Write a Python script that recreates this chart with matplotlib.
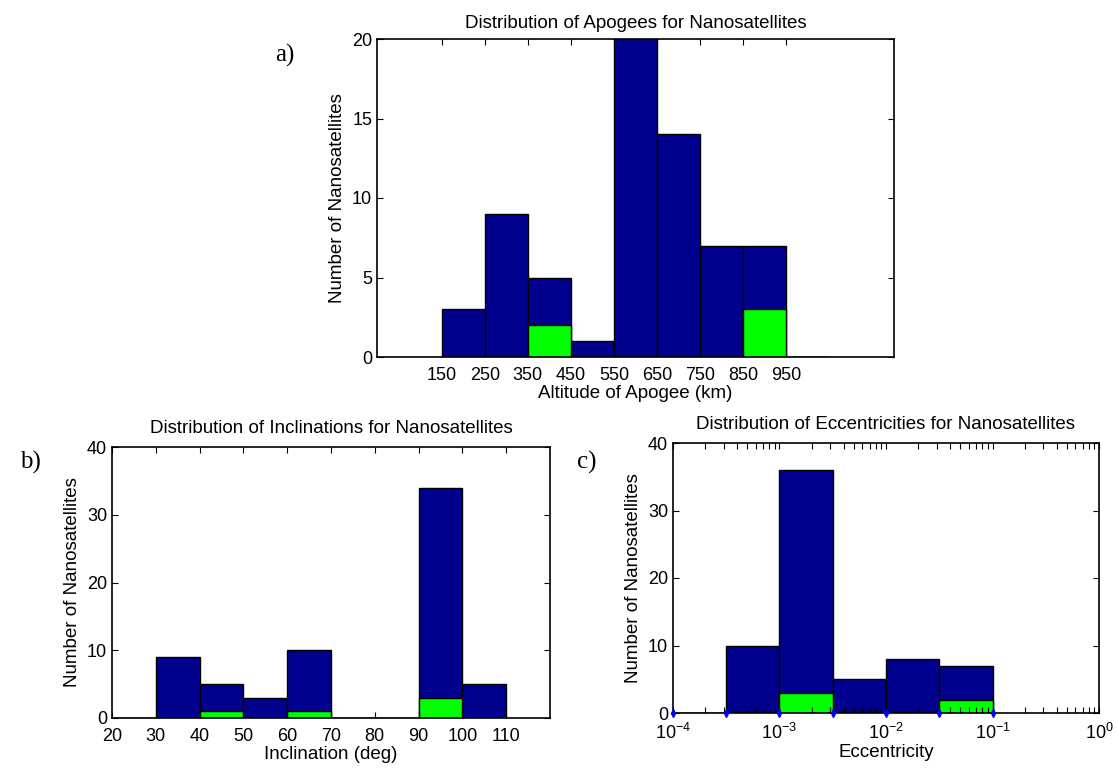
import matplotlib
matplotlib.use("Agg")
import matplotlib.pyplot as plt
import numpy as np

plt.rcParams['font.family'] = ['Liberation Sans', 'DejaVu Sans']

# apogee histogram (km)
apo_edges = [150, 250, 350, 450, 550, 650, 750, 850, 950, 1050]
apo_all = [3, 9, 5, 1, 20, 14, 7, 7, 0]
apo_sub = [0, 0, 2, 0, 0, 0, 0, 3, 0]
apo_ticks = [150, 250, 350, 450, 550, 650, 750, 850, 950]

# inclination histogram (deg)
inc_edges = [20, 30, 40, 50, 60, 70, 80, 90, 100, 110]
inc_all = [0, 9, 5, 3, 10, 0, 0, 34, 5]
inc_sub = [0, 0, 1, 0, 1, 0, 0, 3, 0]
inc_ticks = [20, 30, 40, 50, 60, 70, 80, 90, 100, 110]

# eccentricity histogram (log bins)
ecc_edges = [1e-4, 10**-3.5, 1e-3, 10**-2.5, 1e-2, 10**-1.5, 1e-1]
ecc_all = [0, 10, 36, 5, 8, 7]
ecc_sub = [0, 0, 3, 0, 0, 2]

BLUE = '#00008F'
GREEN = '#00FF00'
W, H = 1116, 768
TXT = 13.5

fig = plt.figure(figsize=(W / 100, H / 100), dpi=100)


def make_ax(l, t, r, b):
    return fig.add_axes([l / W, 1 - b / H, (r - l) / W, (b - t) / H])


def style(ax):
    ax.tick_params(which='both', direction='in', top=True, right=True,
                   labelsize=13, length=4, width=0.8)
    ax.tick_params(axis='x', which='both', pad=7)
    for s in ax.spines.values():
        s.set_linewidth(1.2)


def hist(ax, edges, full, part):
    edges = np.array(edges)
    widths = np.diff(edges)
    ax.bar(edges[:-1], full, width=widths, align='edge', color=BLUE,
           edgecolor='black', linewidth=1.0)
    ax.bar(edges[:-1], part, width=widths, align='edge', color=GREEN,
           edgecolor='black', linewidth=1.0)


# a) apogee
ax1 = make_ax(377, 39, 894, 357)
hist(ax1, apo_edges, apo_all, apo_sub)
ax1.set_xlim(0, 1200)
ax1.set_ylim(0, 20)
ax1.set_xticks(apo_ticks)
ax1.set_yticks([0, 5, 10, 15, 20])
style(ax1)
ax1.set_title('Distribution of Apogees for Nanosatellites', fontsize=TXT, pad=8)
ax1.set_xlabel('Altitude of Apogee (km)', fontsize=TXT, labelpad=1)
ax1.set_ylabel('Number of Nanosatellites', fontsize=TXT, labelpad=4)

# b) inclination
ax2 = make_ax(112, 447, 550, 718)
hist(ax2, inc_edges, inc_all, inc_sub)
ax2.set_xlim(20, 120)
ax2.set_ylim(0, 40)
ax2.set_xticks(inc_ticks)
ax2.set_yticks([0, 10, 20, 30, 40])
style(ax2)
ax2.set_title('Distribution of Inclinations for Nanosatellites', fontsize=TXT, pad=10)
ax2.set_xlabel('Inclination (deg)', fontsize=TXT, labelpad=1)
ax2.set_ylabel('Number of Nanosatellites', fontsize=TXT, labelpad=4)

# c) eccentricity
ax3 = make_ax(673, 443, 1099, 713)
hist(ax3, ecc_edges, ecc_all, ecc_sub)
ax3.plot(ecc_edges, [0] * len(ecc_edges), linestyle='none', marker='d',
         color='blue', markersize=4, clip_on=False, zorder=5)
ax3.set_xscale('log')
ax3.set_xlim(1e-4, 1)
ax3.set_ylim(0, 40)
ax3.set_yticks([0, 10, 20, 30, 40])
style(ax3)
ax3.set_title('Distribution of Eccentricities for Nanosatellites', fontsize=TXT, pad=10)
ax3.set_xlabel('Eccentricity', fontsize=TXT, labelpad=1)
ax3.set_ylabel('Number of Nanosatellites', fontsize=TXT, labelpad=4)

# panel letters
fig.text(285 / W, 1 - 55 / H, 'a)', family='Liberation Serif', fontsize=18,
         ha='center', va='center')
fig.text(30 / W, 1 - 462 / H, 'b)', family='Liberation Serif', fontsize=18,
         ha='center', va='center')
fig.text(587 / W, 1 - 462 / H, 'c)', family='Liberation Serif', fontsize=18,
         ha='center', va='center')

fig.savefig('out.png', dpi=100)
